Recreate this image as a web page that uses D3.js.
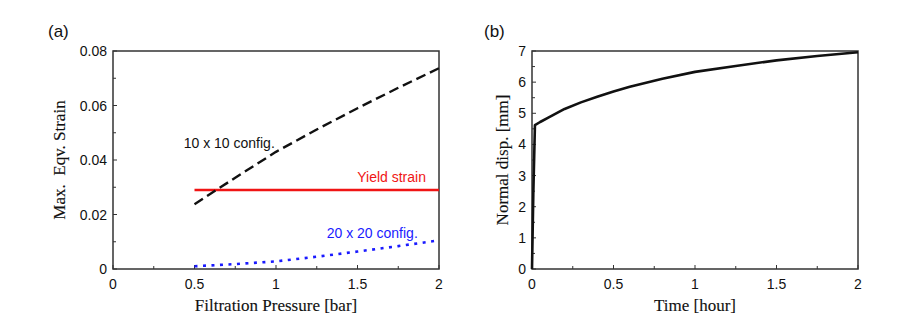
<!DOCTYPE html>
<html>
<head>
<meta charset="utf-8">
<script src="https://cdn.jsdelivr.net/npm/d3@7"></script>
<style>
  body { margin: 0; background: #fff; }
  svg { display: block; }
  .tick-label { font-family: "Liberation Sans", Arial, sans-serif; font-size: 14px; fill: #111; }
  .axis-title { font-family: "Liberation Serif", "Times New Roman", serif; font-size: 17px; fill: #111; stroke: #111; stroke-width: 0.12; }
  .panel-tag { font-family: "Liberation Sans", Arial, sans-serif; font-size: 17px; fill: #111; }
  .note { font-family: "Liberation Sans", Arial, sans-serif; font-size: 14px; }
</style>
</head>
<body>
<script>
// Data {{{1
const pressure = [0.5, 0.75, 1, 1.25, 1.5, 1.75, 2];
const strain10 = [0.0238, 0.0335, 0.043, 0.0512, 0.0590, 0.0665, 0.0737];
const strain20 = [0.0010, 0.0018, 0.0028, 0.0045, 0.0064, 0.0084, 0.0105];
const yieldPressure = [0.5, 2];
const yieldStrain = [0.029, 0.029];

const time = [0, 0.008, 0.018, 0.05, 0.1, 0.2, 0.3, 0.4, 0.5, 0.6, 0.8, 1, 1.25, 1.5, 1.75, 2];
const disp = [0, 2.4, 4.62, 4.72, 4.86, 5.14, 5.35, 5.53, 5.7, 5.85, 6.11, 6.33, 6.52, 6.7, 6.84, 6.96];

const xTicksA = [0, 0.5, 1, 1.5, 2];
const yTicksA = [0, 0.02, 0.04, 0.06, 0.08];
const xTicksB = [0, 0.5, 1, 1.5, 2];
const yTicksB = [0, 1, 2, 3, 4, 5, 6, 7];

// Main {{{1
const svg = d3.select("body").append("svg").attr("width", 908).attr("height", 331);

const panelA = createPanel({
    left: 113, right: 439, top: 51, bottom: 269,
    xDomain: [0, 2], yDomain: [0, 0.08],
    xTicks: xTicksA, yTicks: yTicksA, xMinor: 0.25, yMinor: 0.01,
    yFormat: (d) => d === 0 ? "0" : d3.format(".2f")(d),
    xTitle: "Filtration Pressure [bar]", yTitle: "Max.\u00a0 Eqv. Strain",
    yTitleX: 65, tag: "(a)", tagX: 48
});
drawSeries(panelA, yieldPressure, yieldStrain, "#f01414", 2.6, null);
drawSeries(panelA, pressure, strain10, "#111", 2.4, "10,5");
drawSeries(panelA, pressure, strain20, "#1a1aff", 2.6, "3,5.5");
addNote(panelA, 0.434, 0.0445, "start", "#111", "10 x 10 config.");
addNote(panelA, 1.92, 0.0318, "end", "#f01414", "Yield strain");
addNote(panelA, 1.87, 0.0112, "end", "#1a1aff", "20 x 20 config.");

const panelB = createPanel({
    left: 532, right: 858, top: 51, bottom: 269,
    xDomain: [0, 2], yDomain: [0, 7],
    xTicks: xTicksB, yTicks: yTicksB, xMinor: 0.25, yMinor: 0.5,
    yFormat: d3.format("d"),
    xTitle: "Time [hour]", yTitle: "Normal disp. [mm]",
    yTitleX: 508, tag: "(b)", tagX: 484
});
drawSeries(panelB, time, disp, "#111", 2.6, null);

// Panel construction {{{1
function createPanel(o) {
    const x = d3.scaleLinear().domain(o.xDomain).range([o.left, o.right]);
    const y = d3.scaleLinear().domain(o.yDomain).range([o.bottom, o.top]);
    const g = svg.append("g");

    // inward ticks, minor and major
    const xMinorTicks = d3.range(o.xDomain[0], o.xDomain[1] + 1e-9, o.xMinor);
    const yMinorTicks = d3.range(o.yDomain[0], o.yDomain[1] + 1e-9, o.yMinor);
    g.selectAll(".xminor").data(xMinorTicks).join("line")
        .attr("x1", x).attr("x2", x)
        .attr("y1", o.bottom).attr("y2", (d, i) => o.bottom - (i % 2 ? 3 : 4))
        .attr("stroke", "#333").attr("stroke-width", 1);
    g.selectAll(".yminor").data(yMinorTicks).join("line")
        .attr("y1", y).attr("y2", y)
        .attr("x1", o.left).attr("x2", (d, i) => o.left + (i % 2 ? 3 : 4))
        .attr("stroke", "#333").attr("stroke-width", 1);

    g.append("rect")
        .attr("x", o.left).attr("y", o.top)
        .attr("width", o.right - o.left).attr("height", o.bottom - o.top)
        .attr("fill", "none").attr("stroke", "#333").attr("stroke-width", 1.5);

    g.selectAll(".xlab").data(o.xTicks).join("text")
        .classed("tick-label", true)
        .attr("x", x).attr("y", o.bottom + 20)
        .attr("text-anchor", "middle")
        .text((d) => d);
    g.selectAll(".ylab").data(o.yTicks).join("text")
        .classed("tick-label", true)
        .attr("x", o.left - 6).attr("y", (d) => y(d) + 5)
        .attr("text-anchor", "end")
        .text(o.yFormat);

    g.append("text").classed("axis-title", true)
        .attr("x", (o.left + o.right) / 2).attr("y", o.bottom + 42)
        .attr("text-anchor", "middle")
        .text(o.xTitle);
    g.append("text").classed("axis-title", true)
        .attr("transform", `translate(${o.yTitleX},${(o.top + o.bottom) / 2}) rotate(-90)`)
        .attr("text-anchor", "middle")
        .text(o.yTitle);
    g.append("text").classed("panel-tag", true)
        .attr("x", o.tagX).attr("y", 37)
        .text(o.tag);

    return { g, x, y };
}
function drawSeries(panel, xs, ys, color, width, dash) {
    const line = d3.line().x((d) => panel.x(d[0])).y((d) => panel.y(d[1]));
    panel.g.append("path")
        .datum(d3.zip(xs, ys))
        .attr("d", line)
        .attr("fill", "none")
        .attr("stroke", color)
        .attr("stroke-width", width)
        .attr("stroke-dasharray", dash)
        .attr("stroke-linejoin", "round");
}
function addNote(panel, xv, yv, anchor, color, label) {
    panel.g.append("text").classed("note", true)
        .attr("x", panel.x(xv)).attr("y", panel.y(yv))
        .attr("text-anchor", anchor)
        .attr("fill", color)
        .text(label);
}
</script>
</body>
</html>
